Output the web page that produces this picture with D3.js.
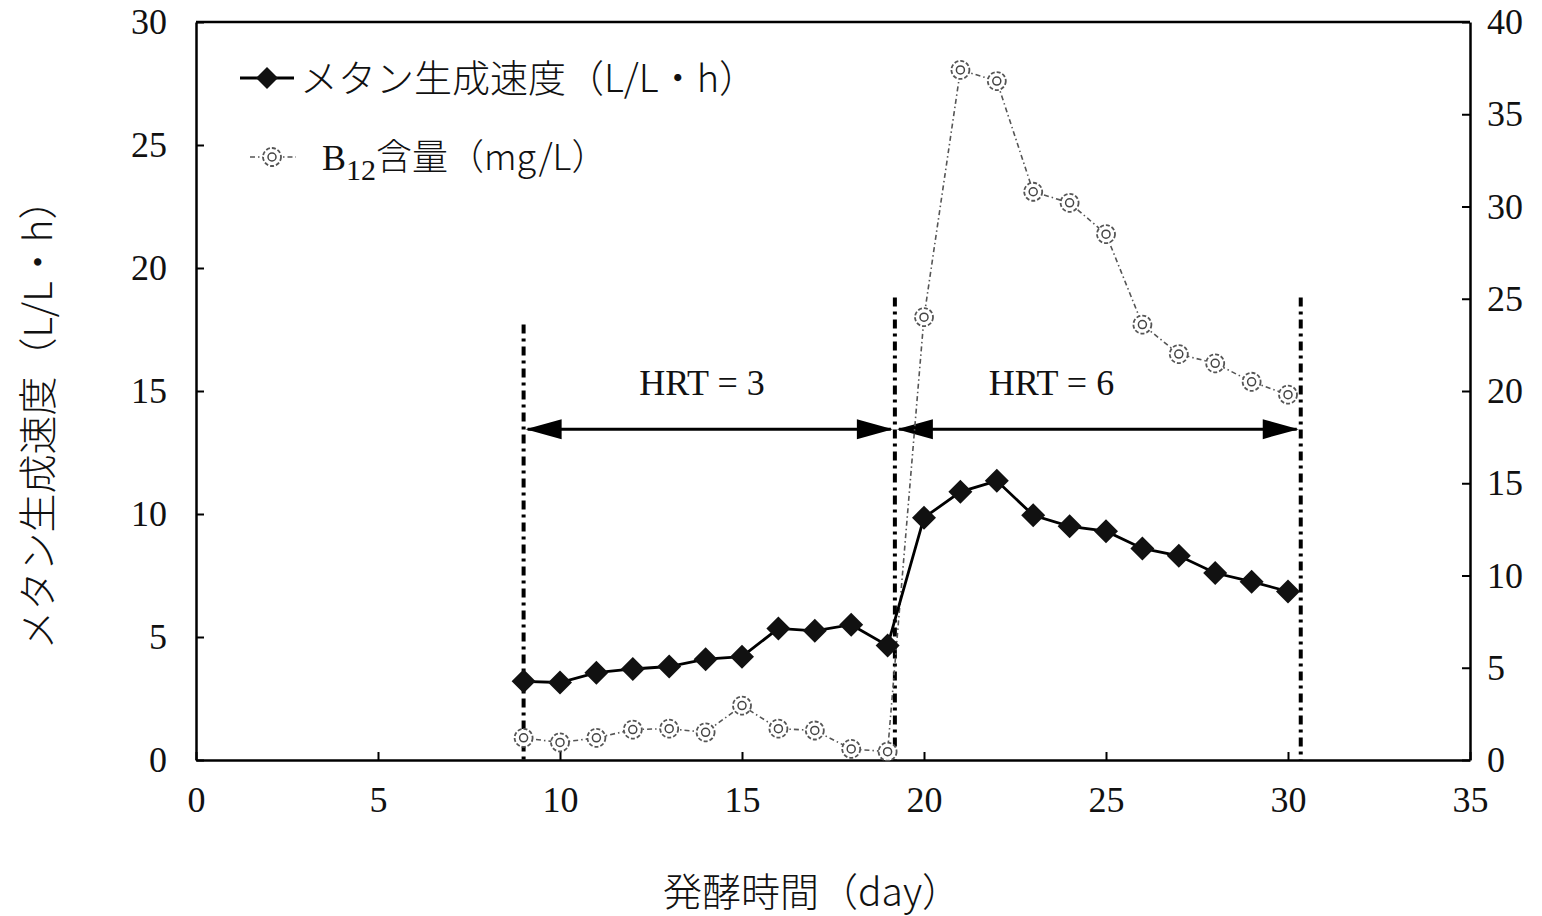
<!DOCTYPE html>
<html>
<head>
<meta charset="utf-8">
<script src="https://cdn.jsdelivr.net/npm/d3@7"></script>
<style>
  body { margin: 0; background: #fff; }
  svg text { fill: #111; }
  .tick text { font-family: "Liberation Serif", "DejaVu Serif", serif; font-size: 36px; }
</style>
</head>
<body>
<div id="chart"></div>
<script>
// Data
const days = [9, 10, 11, 12, 13, 14, 15, 16, 17, 18, 19, 20, 21, 22, 23, 24, 25, 26, 27, 28, 29, 30];
const methaneRate = [3.2, 3.15, 3.55, 3.7, 3.8, 4.1, 4.2, 5.35, 5.25, 5.5, 4.65, 9.85, 10.9, 11.35, 9.95, 9.5, 9.3, 8.6, 8.3, 7.6, 7.25, 6.85];
const b12Content = [1.2, 0.95, 1.2, 1.65, 1.7, 1.5, 2.95, 1.7, 1.6, 0.6, 0.45, 24.0, 37.4, 36.8, 30.8, 30.2, 28.5, 23.6, 22.0, 21.5, 20.5, 19.8];

const xTicks = [0, 5, 10, 15, 20, 25, 30, 35];
const leftTicks = [0, 5, 10, 15, 20, 25, 30];
const rightTicks = [0, 5, 10, 15, 20, 25, 30, 35, 40];

// HRT periods: boundaries (day), tops of the dash-dot markers (left axis units), label centres (day)
const hrtBounds = [9.0, 19.2, 30.35];
const hrtTops = [17.7, 18.8, 18.8];
const hrtLabels = ["HRT = 3", "HRT = 6"];
const hrtLabelDays = [13.9, 23.5];
const hrtArrowLevel = 13.45;

const width = 1542, height = 916;
const margin = {top: 22, right: 72, bottom: 156, left: 196};

const svg = d3.select("#chart").append("svg")
    .attr("width", width)
    .attr("height", height);

const x = d3.scaleLinear()
    .domain([0, 35])
    .range([margin.left, width - margin.right]);

const yL = d3.scaleLinear()
    .domain([0, 30])
    .range([height - margin.bottom, margin.top]);

const yR = d3.scaleLinear()
    .domain([0, 40])
    .range([height - margin.bottom, margin.top]);

// Axes (ticks point inward)
svg.append("g")
    .attr("transform", `translate(0,${height - margin.bottom})`)
    .call(d3.axisBottom(x).tickValues(xTicks).tickSizeInner(-8).tickSizeOuter(0).tickPadding(26))
    .call(g => g.select(".domain").attr("stroke-width", 2.5));

svg.append("g")
    .attr("transform", `translate(${margin.left},0)`)
    .call(d3.axisLeft(yL).tickValues(leftTicks).tickSizeInner(-8).tickSizeOuter(0).tickPadding(29))
    .call(g => g.select(".domain").attr("stroke-width", 2.5));

svg.append("g")
    .attr("transform", `translate(${width - margin.right},0)`)
    .call(d3.axisRight(yR).tickValues(rightTicks).tickSizeInner(-8).tickSizeOuter(0).tickPadding(17))
    .call(g => g.select(".domain").attr("stroke-width", 2.5));

// top border
svg.append("line")
    .attr("x1", x(0)).attr("x2", x(35))
    .attr("y1", yL(30)).attr("y2", yL(30))
    .attr("stroke", "#000")
    .attr("stroke-width", 2.5);

svg.selectAll(".tick line").attr("stroke-width", 2);

// Axis titles
svg.append("text")
    .attr("transform", `translate(52,415) rotate(-90)`)
    .attr("text-anchor", "middle")
    .style("font-family", "'Noto Sans CJK JP', sans-serif")
    .style("font-weight", 300)
    .style("font-size", "39px")
    .text("メタン生成速度（L/L・h）");

svg.append("text")
    .attr("x", 812)
    .attr("y", 906)
    .attr("text-anchor", "middle")
    .style("font-family", "'Noto Sans CJK JP', sans-serif")
    .style("font-weight", 300)
    .style("font-size", "39px")
    .text("発酵時間（day）");

// HRT period markers
svg.append("g")
    .selectAll("line")
    .data(hrtBounds)
    .enter().append("line")
    .attr("x1", d => x(d)).attr("x2", d => x(d))
    .attr("y1", (d, i) => yL(hrtTops[i]))
    .attr("y2", yL(0))
    .attr("stroke", "#000")
    .attr("stroke-width", 4)
    .attr("stroke-dasharray", "9,5,3,5");

const arrowLen = 36, arrowHalf = 10;
const arrows = svg.append("g");
hrtLabels.forEach((label, i) => {
    const x0 = x(hrtBounds[i]), x1 = x(hrtBounds[i + 1]);
    const ay = yL(hrtArrowLevel);
    arrows.append("line")
        .attr("x1", x0 + 4).attr("x2", x1 - 4)
        .attr("y1", ay).attr("y2", ay)
        .attr("stroke", "#000")
        .attr("stroke-width", 3);
    arrows.append("path")
        .attr("d", `M${x0 + 2},${ay} L${x0 + 2 + arrowLen},${ay - arrowHalf} L${x0 + 2 + arrowLen},${ay + arrowHalf} Z`)
        .attr("fill", "#000");
    arrows.append("path")
        .attr("d", `M${x1 - 2},${ay} L${x1 - 2 - arrowLen},${ay - arrowHalf} L${x1 - 2 - arrowLen},${ay + arrowHalf} Z`)
        .attr("fill", "#000");
    arrows.append("text")
        .attr("x", x(hrtLabelDays[i]))
        .attr("y", ay - 34)
        .attr("text-anchor", "middle")
        .style("font-family", "'Liberation Serif', serif")
        .style("font-size", "36px")
        .text(label);
});

// B12 series (right axis)
const b12Data = days.map((d, i) => ({day: d, v: b12Content[i]}));
svg.append("path")
    .datum(b12Data)
    .attr("fill", "none")
    .attr("stroke", "#555")
    .attr("stroke-width", 1.6)
    .attr("stroke-dasharray", "5,3,1.5,3")
    .attr("d", d3.line().x(d => x(d.day)).y(d => yR(d.v)));

const b12Marks = svg.append("g")
    .selectAll("g")
    .data(b12Data)
    .enter().append("g")
    .attr("transform", d => `translate(${x(d.day)},${yR(d.v)})`);
b12Marks.append("circle")
    .attr("r", 9)
    .attr("fill", "#fff")
    .attr("stroke", "#555")
    .attr("stroke-width", 1.8)
    .attr("stroke-dasharray", "4,2");
b12Marks.append("circle")
    .attr("r", 4)
    .attr("fill", "none")
    .attr("stroke", "#444")
    .attr("stroke-width", 1.5);

// Methane series (left axis)
const methData = days.map((d, i) => ({day: d, v: methaneRate[i]}));
svg.append("path")
    .datum(methData)
    .attr("fill", "none")
    .attr("stroke", "#000")
    .attr("stroke-width", 2.8)
    .attr("d", d3.line().x(d => x(d.day)).y(d => yL(d.v)));

const dm = 12;
svg.append("g")
    .selectAll("path")
    .data(methData)
    .enter().append("path")
    .attr("d", d => `M${x(d.day)},${yL(d.v) - dm} L${x(d.day) + dm},${yL(d.v)} L${x(d.day)},${yL(d.v) + dm} L${x(d.day) - dm},${yL(d.v)} Z`)
    .attr("fill", "#111");

// Legend
const legend = svg.append("g");
legend.append("line")
    .attr("x1", 240).attr("x2", 294).attr("y1", 78).attr("y2", 78)
    .attr("stroke", "#000").attr("stroke-width", 2.8);
legend.append("path")
    .attr("d", `M267,${78 - 11} L278,78 L267,${78 + 11} L256,78 Z`)
    .attr("fill", "#111");
legend.append("text")
    .attr("x", 300).attr("y", 92)
    .style("font-family", "'Noto Sans CJK JP', sans-serif")
    .style("font-weight", 300)
    .style("font-size", "38px")
    .text("メタン生成速度（L/L・h）");

legend.append("line")
    .attr("x1", 250).attr("x2", 296).attr("y1", 157).attr("y2", 157)
    .attr("stroke", "#555").attr("stroke-width", 1.6)
    .attr("stroke-dasharray", "5,3,1.5,3");
legend.append("circle")
    .attr("cx", 272).attr("cy", 157).attr("r", 9)
    .attr("fill", "#fff").attr("stroke", "#555").attr("stroke-width", 1.8)
    .attr("stroke-dasharray", "4,2");
legend.append("circle")
    .attr("cx", 272).attr("cy", 157).attr("r", 4)
    .attr("fill", "none").attr("stroke", "#444").attr("stroke-width", 1.5);

const b12Label = legend.append("text")
    .attr("x", 322).attr("y", 170)
    .style("font-size", "36px");
b12Label.append("tspan")
    .style("font-family", "'Liberation Serif', serif")
    .text("B");
b12Label.append("tspan")
    .attr("dy", 10)
    .style("font-family", "'Liberation Serif', serif")
    .style("font-size", "30px")
    .text("12");
b12Label.append("tspan")
    .attr("dy", -10)
    .style("font-family", "'Noto Sans CJK JP', sans-serif")
    .style("font-weight", 300)
    .style("font-size", "36px")
    .text("含量（mg/L）");
</script>
</body>
</html>
